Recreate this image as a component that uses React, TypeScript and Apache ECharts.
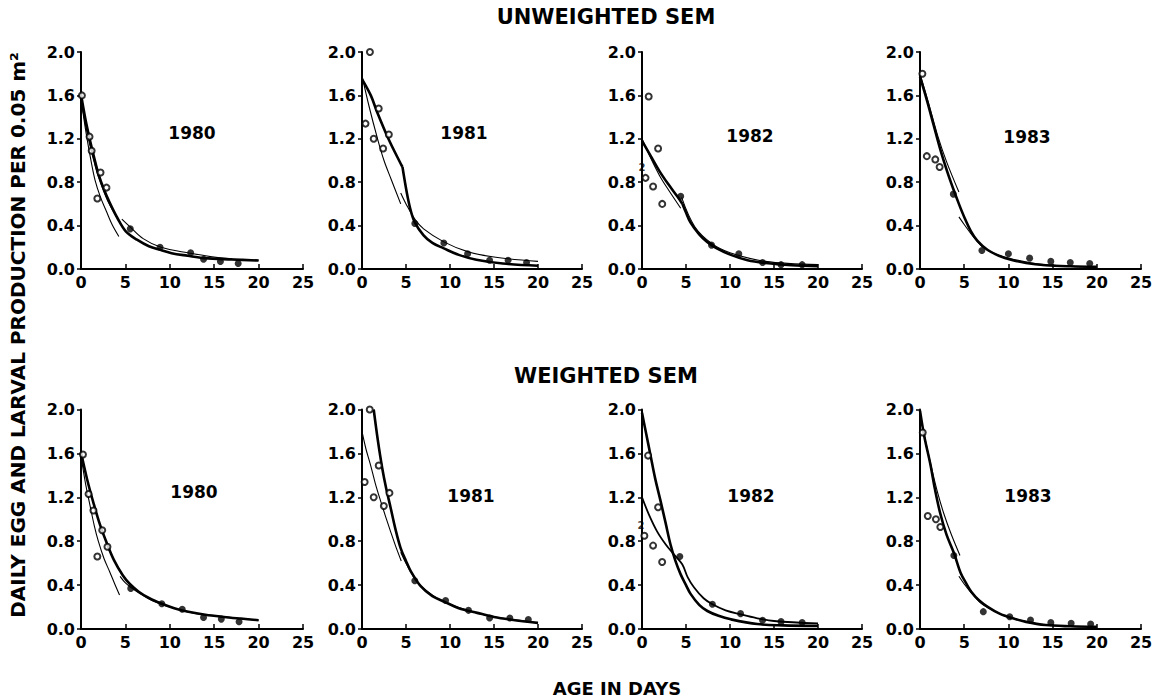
import React, { useEffect, useRef } from "react";
import * as echarts from "echarts";

type P = [number, number][];

// ---------- axis ticks ----------
const xTicks = [0, 5, 10, 15, 20, 25];
const yTicks = [0, 0.4, 0.8, 1.2, 1.6, 2.0];

const years = ["1980", "1981", "1982", "1983", "1980", "1981", "1982", "1983"];

// ---------- UNWEIGHTED SEM ----------
// 1980
const u80Open: P = [[0.1, 1.6], [0.96, 1.22], [1.2, 1.09], [1.84, 0.65], [2.2, 0.89], [2.87, 0.75]];
const u80Filled: P = [[5.55, 0.37], [8.9, 0.2], [12.35, 0.15], [13.8, 0.09], [15.7, 0.07], [17.7, 0.05]];
const u80Thick: P = [[0, 1.61], [0.5, 1.38], [1.03, 1.18], [1.5, 1.02], [1.95, 0.88], [2.6, 0.73], [3.24, 0.61], [4.1, 0.47], [5.07, 0.345], [6.3, 0.27], [7.65, 0.21], [9, 0.175], [10.2, 0.146], [12, 0.122], [13.9, 0.1], [17, 0.088], [20, 0.078]];
const u80ThinA: P = [[0, 1.58], [0.3, 1.4], [0.66, 1.21], [1.1, 1.01], [1.58, 0.82], [2.2, 0.66], [2.87, 0.53], [3.5, 0.41], [4.26, 0.3]];
const u80ThinB: P = [[0, 1.56], [0.5, 1.33], [1, 1.14], [1.5, 0.98], [2, 0.84], [3, 0.63], [4.4, 0.43]];
const u80ThinC: P = [[4.6, 0.46], [5.5, 0.39], [7, 0.28], [9, 0.2], [12, 0.15], [16, 0.1], [20, 0.08]];

// 1981
const u81Open: P = [[0.9, 2.0], [0.4, 1.34], [1.33, 1.2], [1.9, 1.48], [2.4, 1.11], [3.05, 1.24]];
const u81Filled: P = [[6.0, 0.42], [9.3, 0.24], [12.0, 0.14], [14.5, 0.08], [16.6, 0.08], [18.7, 0.06]];
const u81ThickA: P = [[0, 1.75], [1, 1.6], [1.7, 1.45], [3, 1.2], [4.4, 0.97], [4.6, 0.94]];
const u81ThickB: P = [[4.6, 0.94], [5.1, 0.7], [5.5, 0.55], [6, 0.43], [7, 0.31], [8, 0.24], [9.3, 0.19], [11, 0.13], [13, 0.085], [16, 0.05], [20, 0.03]];
const u81ThinA: P = [[0, 1.78], [0.8, 1.5], [1.7, 1.22], [2.5, 1.0], [3.3, 0.83], [4.4, 0.6]];
const u81ThinB: P = [[4.4, 0.7], [5, 0.6], [6, 0.46], [7, 0.37], [9.3, 0.25], [12, 0.16], [15, 0.11], [20, 0.07]];

// 1982
const u82Open: P = [[0.76, 1.59], [1.26, 0.76], [1.83, 1.11], [2.3, 0.6]];
const u82Dup: P = [[0.4, 0.84]];
const u82Filled: P = [[4.4, 0.67], [7.9, 0.22], [11.0, 0.14], [13.7, 0.06], [15.8, 0.04], [18.2, 0.04]];
const u82ThickA: P = [[0, 1.18], [1, 1.04], [2, 0.9], [3, 0.78], [4, 0.67], [4.6, 0.6]];
const u82ThickB: P = [[4.6, 0.6], [5, 0.52], [5.5, 0.43], [6.5, 0.32], [7.4, 0.25], [8.5, 0.19], [10.1, 0.13], [12, 0.08], [14, 0.055], [17, 0.035], [20, 0.025]];
const u82ThinA: P = [[0, 1.2], [1, 1.02], [2, 0.86], [3, 0.73], [4.4, 0.56]];
const u82ThinB: P = [[4.5, 0.66], [6, 0.39], [8, 0.23], [10, 0.15], [14, 0.07], [20, 0.04]];

// 1983
const u83Open: P = [[0.27, 1.8], [0.77, 1.04], [1.73, 1.01], [2.22, 0.94]];
const u83Filled: P = [[3.77, 0.69], [7.0, 0.17], [10.0, 0.14], [12.4, 0.1], [14.8, 0.07], [17.0, 0.06], [19.2, 0.05]];
const u83Thick: P = [[0, 1.77], [0.8, 1.55], [1.53, 1.33], [2.3, 1.1], [3.07, 0.9], [3.8, 0.73], [4.4, 0.6], [5, 0.48], [5.75, 0.35], [6.5, 0.26], [7.66, 0.175], [9, 0.12], [10.3, 0.085], [12, 0.055], [14.2, 0.035], [17, 0.025], [20, 0.02]];
const u83ThinA: P = [[0, 1.8], [1, 1.52], [2, 1.23], [3, 0.99], [4.4, 0.71]];
const u83ThinB: P = [[4.4, 0.48], [5, 0.41], [6, 0.3], [7, 0.21], [8.5, 0.14], [10, 0.1], [14, 0.04], [20, 0.02]];

// ---------- WEIGHTED SEM ----------
// 1980
const w80Open: P = [[0.22, 1.59], [0.85, 1.23], [1.4, 1.08], [1.84, 0.66], [2.39, 0.9], [2.98, 0.75]];
const w80Filled: P = [[5.6, 0.37], [9.1, 0.23], [11.4, 0.18], [13.8, 0.105], [15.8, 0.09], [17.8, 0.066]];
const w80Thick: P = [[0, 1.61], [0.7, 1.36], [1.4, 1.15], [2.1, 0.96], [2.87, 0.79], [3.7, 0.63], [4.7, 0.49], [5.5, 0.41], [6.5, 0.34], [7.7, 0.28], [9.1, 0.23], [10.5, 0.19], [12.1, 0.157], [14, 0.13], [16.1, 0.11], [18, 0.095], [20, 0.08]];
const w80ThinA: P = [[0, 1.58], [0.5, 1.33], [1.03, 1.12], [1.5, 0.94], [1.95, 0.8], [2.6, 0.64], [3.24, 0.52], [3.8, 0.41], [4.34, 0.31]];
const w80ThinB: P = [[4.4, 0.48], [5, 0.42], [5.6, 0.38], [6.5, 0.33], [8, 0.26], [10, 0.2], [13, 0.14], [20, 0.08]];

// 1981
const w81Open: P = [[0.88, 2.0], [0.3, 1.34], [1.33, 1.2], [1.9, 1.49], [2.48, 1.12], [3.12, 1.24]];
const w81Filled: P = [[6.0, 0.44], [9.5, 0.26], [12.1, 0.17], [14.5, 0.1], [16.8, 0.1], [18.9, 0.086]];
const w81Thick: P = [[1.33, 2.0], [1.8, 1.72], [2.29, 1.47], [2.75, 1.28], [3.24, 1.11], [3.8, 0.91], [4.38, 0.74], [5, 0.62], [5.52, 0.53], [6.67, 0.39], [8, 0.3], [9.33, 0.25], [11, 0.19], [13.1, 0.147], [15, 0.11], [17, 0.085], [20, 0.055]];
const w81ThinA: P = [[0, 1.8], [0.45, 1.64], [0.95, 1.5], [1.5, 1.33], [2.1, 1.17], [2.7, 1.02], [3.24, 0.89], [3.8, 0.76], [4.46, 0.62]];
const w81ThinB: P = [[4.4, 0.7], [5, 0.6], [6, 0.46], [7, 0.37], [9, 0.26], [12, 0.17], [15, 0.11], [20, 0.06]];

// 1982
const w82Open: P = [[0.69, 1.58], [1.26, 0.76], [1.83, 1.11], [2.29, 0.61]];
const w82Dup: P = [[0.27, 0.85]];
const w82Filled: P = [[4.3, 0.66], [8.0, 0.225], [11.2, 0.14], [13.7, 0.08], [15.8, 0.067], [18.2, 0.06]];
const w82Thick: P = [[0, 1.97], [0.5, 1.77], [0.95, 1.59], [1.5, 1.37], [2.1, 1.17], [2.7, 0.96], [3.24, 0.77], [3.8, 0.62], [4.38, 0.5], [5, 0.4], [5.52, 0.32], [6.5, 0.22], [7.43, 0.164], [8.7, 0.12], [10.1, 0.088], [13.1, 0.045], [16, 0.033], [20, 0.027]];
const w82Second: P = [[0, 1.2], [0.8, 1.04], [1.71, 0.89], [2.7, 0.77], [3.62, 0.68], [4.57, 0.59], [5.2, 0.47], [5.9, 0.38], [7, 0.28], [8, 0.225], [9.5, 0.17], [11.2, 0.134], [13, 0.1], [15, 0.073], [20, 0.05]];

// 1983
const w83Open: P = [[0.31, 1.79], [0.88, 1.03], [1.8, 1.0], [2.3, 0.93]];
const w83Filled: P = [[3.83, 0.67], [7.16, 0.158], [10.15, 0.112], [12.5, 0.082], [14.8, 0.058], [17.1, 0.052], [19.3, 0.046]];
const w83Thick: P = [[0, 1.99], [0.5, 1.75], [1.15, 1.51], [1.7, 1.27], [2.3, 1.05], [3, 0.86], [3.85, 0.69], [4.6, 0.51], [5.2, 0.42], [5.8, 0.34], [6.7, 0.26], [7.7, 0.2], [9, 0.14], [10.4, 0.1], [12, 0.065], [14.2, 0.036], [17, 0.025], [20, 0.02]];
const w83ThinA: P = [[0, 1.96], [0.6, 1.72], [1.3, 1.47], [2.0, 1.24], [2.7, 1.05], [3.5, 0.87], [4.52, 0.67]];
const w83ThinB: P = [[4.4, 0.48], [5, 0.41], [6, 0.31], [7, 0.23], [8.5, 0.16], [10, 0.11], [14, 0.04], [20, 0.02]];

type Panel = { open: P; dup?: P; filled: P; thick: P[]; thin: P[]; medium?: P[] };

const panels: Panel[] = [
  { open: u80Open, filled: u80Filled, thick: [u80Thick], thin: [u80ThinA, u80ThinB, u80ThinC] },
  { open: u81Open, filled: u81Filled, thick: [u81ThickA, u81ThickB], thin: [u81ThinA, u81ThinB] },
  { open: u82Open, dup: u82Dup, filled: u82Filled, thick: [u82ThickA, u82ThickB], thin: [u82ThinA, u82ThinB] },
  { open: u83Open, filled: u83Filled, thick: [u83Thick], thin: [u83ThinA, u83ThinB] },
  { open: w80Open, filled: w80Filled, thick: [w80Thick], thin: [w80ThinA, w80ThinB] },
  { open: w81Open, filled: w81Filled, thick: [w81Thick], thin: [w81ThinA, w81ThinB] },
  { open: w82Open, dup: w82Dup, filled: w82Filled, thick: [w82Thick], thin: [], medium: [w82Second] },
  { open: w83Open, filled: w83Filled, thick: [w83Thick], thin: [w83ThinA, w83ThinB] },
];

// ---------- layout (pixels) ----------
const colLeft = [81, 362, 642, 920];
const colWidth = [222, 220, 220, 221];
const rowTop = [52, 409.5];
const rowHeight = [217, 219.5];
const yearOffset: [number, number][] = [
  [111, 81], [102, 81], [108, 84], [107, 85],
  [113, 82], [109, 86], [109, 86], [108, 86],
];

const FONT = "DejaVu Sans";

export default function App() {
  const ref = useRef<HTMLDivElement>(null);

  useEffect(() => {
    if (!ref.current) return;
    const chart = echarts.init(ref.current, undefined, { renderer: "svg" });

    const grids: any[] = [];
    const xAxes: any[] = [];
    const yAxes: any[] = [];
    const series: any[] = [];
    const graphics: any[] = [];

    panels.forEach((p, i) => {
      const row = Math.floor(i / 4);
      const col = i % 4;
      grids.push({
        left: colLeft[col],
        top: rowTop[row],
        width: colWidth[col],
        height: rowHeight[row],
        containLabel: false,
      });
      xAxes.push({
        type: "value",
        gridIndex: i,
        min: xTicks[0],
        max: xTicks[xTicks.length - 1],
        interval: xTicks[1] - xTicks[0],
        axisLine: { show: true, onZero: false, lineStyle: { color: "#000", width: 2 } },
        axisTick: { show: true, inside: true, length: 5, lineStyle: { color: "#000", width: 1.5 } },
        axisLabel: { color: "#000", fontFamily: FONT, fontWeight: "bold", fontSize: 16, margin: 5 },
        splitLine: { show: false },
      });
      yAxes.push({
        type: "value",
        gridIndex: i,
        min: yTicks[0],
        max: yTicks[yTicks.length - 1],
        interval: yTicks[1] - yTicks[0],
        axisLine: { show: true, onZero: false, lineStyle: { color: "#000", width: 2 } },
        axisTick: { show: true, inside: false, length: 4, lineStyle: { color: "#000", width: 1.5 } },
        axisLabel: {
          color: "#000",
          fontFamily: FONT,
          fontWeight: "bold",
          fontSize: 16,
          margin: 6,
          formatter: (v: number) => v.toFixed(1),
        },
        splitLine: { show: false },
      });

      const lineBase = {
        type: "line",
        xAxisIndex: i,
        yAxisIndex: i,
        showSymbol: false,
        symbol: "none",
        smooth: 0.35,
        silent: true,
        z: 2,
      };
      p.thick.forEach((d) =>
        series.push({ ...lineBase, data: d, lineStyle: { color: "#000", width: 2.6 } })
      );
      (p.medium || []).forEach((d) =>
        series.push({ ...lineBase, data: d, lineStyle: { color: "#000", width: 1.8 } })
      );
      p.thin.forEach((d) =>
        series.push({ ...lineBase, data: d, lineStyle: { color: "#000", width: 1.1 } })
      );
      series.push({
        type: "scatter",
        xAxisIndex: i,
        yAxisIndex: i,
        data: p.open,
        symbol: "emptyCircle",
        symbolSize: 6,
        itemStyle: { color: "#000", borderColor: "#000", borderWidth: 1.5 },
        z: 5,
      });
      if (p.dup) {
        series.push({
          type: "scatter",
          xAxisIndex: i,
          yAxisIndex: i,
          data: p.dup,
          symbol: "emptyCircle",
          symbolSize: 6,
          itemStyle: { color: "#000", borderColor: "#000", borderWidth: 1.5 },
          label: {
            show: true,
            formatter: "2",
            position: [-3, -11],
            align: "left",
            verticalAlign: "top",
            color: "#000000",
            fontFamily: FONT,
            fontSize: 10,
            fontWeight: "bold",
          },
          z: 5,
        });
      }
      series.push({
        type: "scatter",
        xAxisIndex: i,
        yAxisIndex: i,
        data: p.filled,
        symbol: "circle",
        symbolSize: 7,
        itemStyle: { color: "#000" },
        z: 5,
      });

      graphics.push({
        type: "text",
        x: colLeft[col] + yearOffset[i][0],
        y: rowTop[row] + yearOffset[i][1],
        style: {
          text: years[i],
          font: `bold 17px "${FONT}"`,
          fill: "#000",
          align: "center",
          verticalAlign: "middle",
        },
      });
    });

    graphics.push(
      {
        type: "text",
        x: 606,
        y: 17,
        style: { text: "UNWEIGHTED SEM", font: `bold 21px "${FONT}"`, fill: "#000", align: "center", verticalAlign: "middle" },
      },
      {
        type: "text",
        x: 606,
        y: 376,
        style: { text: "WEIGHTED SEM", font: `bold 21px "${FONT}"`, fill: "#000", align: "center", verticalAlign: "middle" },
      },
      {
        type: "text",
        x: 617,
        y: 688,
        style: { text: "AGE IN DAYS", font: `bold 18px "${FONT}"`, fill: "#000", align: "center", verticalAlign: "middle" },
      },
      {
        type: "text",
        x: 18,
        y: 335,
        rotation: Math.PI / 2,
        style: {
          text: "DAILY EGG AND LARVAL PRODUCTION PER 0.05 m²",
          font: `bold 20px "${FONT}"`,
          fill: "#000",
          align: "center",
          verticalAlign: "middle",
        },
      }
    );

    chart.setOption({
      animation: false,
      backgroundColor: "#fff",
      grid: grids,
      xAxis: xAxes,
      yAxis: yAxes,
      series,
      graphic: graphics,
    });

    return () => chart.dispose();
  }, []);

  return (
    <div
      ref={ref}
      style={{ position: "fixed", left: 0, top: 0, width: 1162, height: 697, background: "#fff" }}
    />
  );
}
